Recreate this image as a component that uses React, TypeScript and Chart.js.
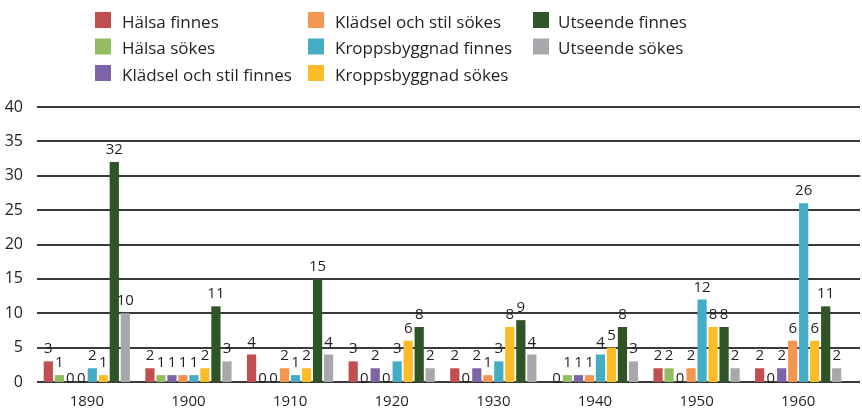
import React, { useEffect, useRef } from 'react';
import { Chart, registerables } from 'chart.js';

Chart.register(...registerables);

const categories = ['1890', '1900', '1910', '1920', '1930', '1940', '1950', '1960'];

const seriesNames = [
  'Hälsa finnes',
  'Hälsa sökes',
  'Klädsel och stil finnes',
  'Klädsel och stil sökes',
  'Kroppsbyggnad finnes',
  'Kroppsbyggnad sökes',
  'Utseende finnes',
  'Utseende sökes',
];

const halsaFinnes = [3, 2, 4, 3, 2, 0, 2, 2];
const halsaSokes = [1, 1, 0, 0, 0, 1, 2, 0];
const kladselFinnes = [0, 1, 0, 2, 2, 1, 0, 2];
const kladselSokes = [0, 1, 2, 0, 1, 1, 2, 6];
const kroppFinnes = [2, 1, 1, 3, 3, 4, 12, 26];
const kroppSokes = [1, 2, 2, 6, 8, 5, 8, 6];
const utseendeFinnes = [32, 11, 15, 8, 9, 8, 8, 11];
const utseendeSokes = [10, 3, 4, 2, 4, 3, 2, 2];

const yTicks = [0, 5, 10, 15, 20, 25, 30, 35, 40];

const seriesValues = [
  halsaFinnes,
  halsaSokes,
  kladselFinnes,
  kladselSokes,
  kroppFinnes,
  kroppSokes,
  utseendeFinnes,
  utseendeSokes,
];

const colors = ['#c0504f', '#93bd62', '#7c64a6', '#f59650', '#44adc5', '#fcbc27', '#2e5428', '#a7a8ab'];

const FONT = '"Open Sans", "Noto Sans", sans-serif';
const TEXT = '#231f20';

const gridPlugin = {
  id: 'customGrid',
  beforeDatasetsDraw(chart: any) {
    const { ctx } = chart;
    const y = chart.scales.y;
    ctx.save();
    ctx.strokeStyle = '#3a3a3a';
    ctx.lineWidth = 2;
    yTicks.forEach((t) => {
      const py = Math.round(y.getPixelForValue(t));
      ctx.beginPath();
      ctx.moveTo(37, py);
      ctx.lineTo(860, py);
      ctx.stroke();
    });
    ctx.restore();
  },
};

const labelPlugin = {
  id: 'valueLabels',
  afterDatasetsDraw(chart: any) {
    const { ctx } = chart;
    ctx.save();
    ctx.font = `15px ${FONT}`;
    ctx.fillStyle = TEXT;
    ctx.textAlign = 'center';
    ctx.textBaseline = 'alphabetic';
    chart.data.datasets.forEach((ds: any, di: number) => {
      const meta = chart.getDatasetMeta(di);
      meta.data.forEach((el: any, i: number) => {
        const v = ds.data[i];
        const yy = v === 0 ? el.y + 1 : el.y - 8;
        ctx.fillText(String(v), el.x, yy);
      });
    });
    ctx.restore();
  },
};

const legendPlugin = {
  id: 'gridLegend',
  afterDraw(chart: any) {
    const { ctx } = chart;
    const swatchX = [95, 308, 533];
    const textX = [122, 335, 558];
    ctx.save();
    ctx.font = `17px ${FONT}`;
    ctx.textAlign = 'left';
    ctx.textBaseline = 'alphabetic';
    chart.data.datasets.forEach((ds: any, i: number) => {
      const col = Math.floor(i / 3);
      const row = i % 3;
      const top = 12 + row * 26.5;
      ctx.fillStyle = ds.backgroundColor;
      ctx.fillRect(swatchX[col], top, 16, 16);
      ctx.fillStyle = TEXT;
      ctx.fillText(ds.label, textX[col], top + 15.5);
    });
    ctx.restore();
  },
};

export default function App() {
  const ref = useRef<HTMLCanvasElement | null>(null);

  useEffect(() => {
    if (!ref.current) return;
    const chart = new Chart(ref.current, {
      type: 'bar',
      data: {
        labels: categories,
        datasets: seriesNames.map((name, i) => ({
          label: name,
          data: seriesValues[i],
          backgroundColor: colors[i],
          borderWidth: 0,
          categoryPercentage: 0.866,
          barPercentage: 0.84,
        })),
      },
      options: {
        animation: false,
        responsive: false,
        maintainAspectRatio: false,
        layout: { padding: { top: 107, right: 13, bottom: 0, left: 0 } },
        plugins: {
          legend: { display: false },
          tooltip: { enabled: false },
          title: { display: false },
        },
        scales: {
          x: {
            grid: { display: false, drawTicks: false },
            border: { display: false },
            ticks: {
              color: TEXT,
              font: { family: FONT, size: 15 },
              padding: 11,
              maxRotation: 0,
            },
            afterFit: (s: any) => {
              s.height = 27;
            },
          },
          y: {
            min: 0,
            max: 40,
            grid: { display: false, drawTicks: false },
            border: { display: false },
            afterBuildTicks: (s: any) => {
              s.ticks = yTicks.map((v) => ({ value: v }));
            },
            ticks: {
              color: TEXT,
              font: { family: FONT, size: 16 },
              padding: 13,
            },
            afterFit: (s: any) => {
              s.width = 36;
            },
          },
        },
      },
      plugins: [gridPlugin, labelPlugin, legendPlugin],
    });
    return () => chart.destroy();
  }, []);

  return (
    <div style={{ position: 'fixed', left: 0, top: 0, width: 862, height: 409, background: '#fff' }}>
      <canvas ref={ref} width={862} height={409} style={{ width: 862, height: 409, display: 'block' }} />
    </div>
  );
}
